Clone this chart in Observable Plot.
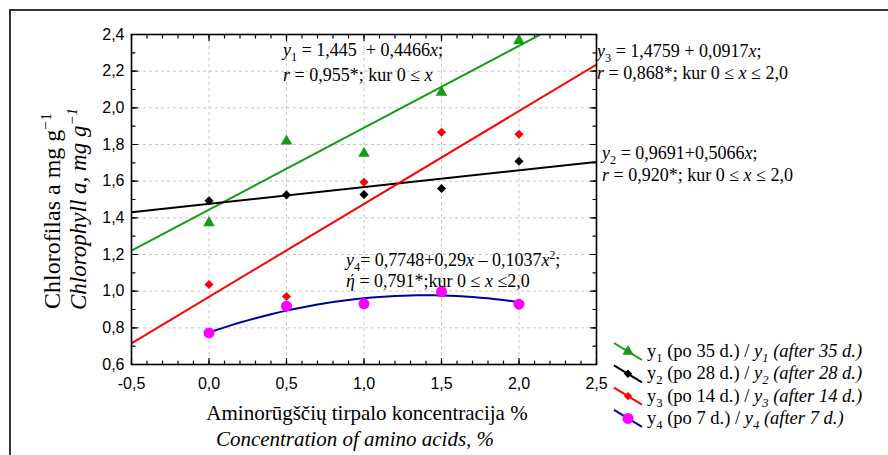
<!DOCTYPE html>
<html><head><meta charset="utf-8">
<script src="https://cdn.jsdelivr.net/npm/d3@7"></script>
<script src="https://cdn.jsdelivr.net/npm/@observablehq/plot@0.6"></script>
<style>body{margin:0;background:#fff} svg{display:block}</style>
</head><body><div id="chart"></div>
<script>
// ---- data ----
const concentrations = [0, 0.5, 1.0, 1.5, 2.0];
const y1Values = [1.373, 1.818, 1.751, 2.084, 2.367]; // green triangles (after 35 d.)
const y2Values = [1.493, 1.525, 1.527, 1.560, 1.709]; // black diamonds (after 28 d.)
const y3Values = [1.036, 0.971, 1.594, 1.867, 1.856]; // red diamonds (after 14 d.)
const y4Values = [0.772, 0.918, 0.931, 0.998, 0.929]; // magenta circles (after 7 d.)

// fitted equations as printed on the chart
const greenFit = [1.445, 0.4466];
const blackFit = [1.4759, 0.0917];
const redFit = [0.9691, 0.5066];
const blueFit = [0.7748, 0.29, -0.1037];
const blueRange = [0, 2.0];

const xDomain = [-0.5, 2.5];
const yDomain = [0.6, 2.4];
const xTicks = [-0.5, 0, 0.5, 1.0, 1.5, 2.0, 2.5];
const yTicks = [0.6, 0.8, 1.0, 1.2, 1.4, 1.6, 1.8, 2.0, 2.2, 2.4];
const xMinorStep = 0.1;
const yMinorStep = 0.1;

const seriesNames = ["(po 35 d.)", "(po 28 d.)", "(po 14 d.)", "(po 7 d.)"];
const seriesEn = ["(after 35 d.)", "(after 28 d.)", "(after 14 d.)", "(after 7 d.)"];
const subs = ["1", "2", "3", "4"];

// ---- styling ----
const GREEN = "#149c14", BLACK = "#000000", RED = "#ff0000", BLUE = "#00009c", MAGENTA = "#ff00ff";
const serif = "'Liberation Serif', 'Times New Roman', serif";
const sans = "'Liberation Sans', Arial, sans-serif";
const fmt = d => d.toFixed(1).replace(".", ",");

const minorX = d3.range(Math.round((xDomain[1]-xDomain[0])/xMinorStep)+1).map(i => +(xDomain[0] + i*xMinorStep).toFixed(2));
const minorY = d3.range(Math.round((yDomain[1]-yDomain[0])/yMinorStep)+1).map(i => +(yDomain[0] + i*yMinorStep).toFixed(2));

const linePts = (c) => xDomain.map(x => ({x, y: c[0] + c[1]*x}));
const bluePts = d3.range(0, 41).map(i => {
  const x = blueRange[0] + (blueRange[1]-blueRange[0]) * i / 40;
  return {x, y: blueFit[0] + blueFit[1]*x + blueFit[2]*x*x};
});

const tickShape = {draw(context, l) { context.moveTo(0, 0); context.lineTo(0, -l); }};
const tickMarks = (data, frameAnchor, rotate, length) =>
  Plot.vector(data, {
    ...(frameAnchor === "bottom" || frameAnchor === "top" ? {x: d => d} : {y: d => d}),
    frameAnchor, rotate, length, anchor: "start", shape: tickShape, stroke: "black", strokeWidth: 1.2
  });

const plot = Plot.plot({
  width: 888, height: 455,
  marginLeft: 131, marginRight: 292, marginTop: 34, marginBottom: 91,
  style: {fontFamily: sans, fontSize: "16px", background: "white", overflow: "visible"},
  x: {domain: xDomain},
  y: {domain: yDomain},
  marks: [
    Plot.gridX(xTicks, {stroke: "#c8c8c8", strokeOpacity: 1, strokeDasharray: "3,3"}),
    Plot.gridY(yTicks, {stroke: "#c8c8c8", strokeOpacity: 1, strokeDasharray: "3,3"}),
    Plot.axisX({ticks: xTicks, tickSize: 0, tickPadding: 13, tickFormat: fmt, label: null, fontSize: 16, fill: "black"}),
    Plot.axisY({ticks: yTicks, tickSize: 0, tickPadding: 7, tickFormat: fmt, label: null, fontSize: 16, fill: "black"}),
    tickMarks(minorX, "bottom", 0, 3.5),
    tickMarks(minorX, "top", 180, 3.5),
    tickMarks(xTicks, "bottom", 0, 6),
    tickMarks(xTicks, "top", 180, 6),
    tickMarks(minorY, "left", 90, 3.5),
    tickMarks(minorY, "right", -90, 3.5),
    tickMarks(yTicks, "left", 90, 6),
    tickMarks(yTicks, "right", -90, 6),
    Plot.line(linePts(greenFit), {x: "x", y: "y", stroke: GREEN, strokeWidth: 2, clip: true}),
    Plot.line(linePts(blackFit), {x: "x", y: "y", stroke: BLACK, strokeWidth: 2, clip: true}),
    Plot.line(linePts(redFit), {x: "x", y: "y", stroke: RED, strokeWidth: 2, clip: true}),
    Plot.line(bluePts, {x: "x", y: "y", stroke: BLUE, strokeWidth: 2, curve: "linear"}),
    Plot.dot(concentrations, {x: d => d, y: (d, i) => y1Values[i], symbol: "triangle", fill: GREEN, r: 4.3}),
    Plot.dot(concentrations, {x: d => d, y: (d, i) => y2Values[i], symbol: "diamond2", fill: BLACK, r: 4.1}),
    Plot.dot(concentrations, {x: d => d, y: (d, i) => y3Values[i], symbol: "diamond2", fill: RED, r: 4.1}),
    Plot.dot(concentrations, {x: d => d, y: (d, i) => y4Values[i], symbol: "circle", fill: MAGENTA, r: 5.5}),
    Plot.frame({stroke: "black", strokeWidth: 1.6})
  ]
});
document.getElementById("chart").appendChild(plot);

// ---- rich text annotations ----
const svg = d3.select(plot);
svg.insert("path", ":first-child").attr("d", "M10,470V10H895").attr("fill", "none").attr("stroke", "#333").attr("stroke-width", 2);

function rich(x, y, parts, size, opts = {}) {
  const t = svg.append("text").attr("x", x).attr("y", y)
    .attr("font-family", serif).attr("font-size", size).attr("fill", "black")
    .attr("text-anchor", opts.anchor || "start")
    .style("white-space", "pre");
  if (opts.rotate) t.attr("transform", `rotate(${opts.rotate},${x},${y})`);
  if (opts.italic) t.attr("font-style", "italic");
  let shift = 0;
  for (const [txt, st = ""] of parts) {
    const s = t.append("tspan").text(txt);
    let target = 0;
    if (st.includes("sub")) { target = size * 0.28; s.attr("font-size", size * 0.68); }
    if (st.includes("sup")) { target = -size * 0.38; s.attr("font-size", size * 0.65); }
    if (target !== shift) { s.attr("dy", target - shift); shift = target; }
    if (st.includes("i")) s.attr("font-style", "italic");
  }
  return t;
}

const A = 18;
rich(283, 56, [["y", "i"], ["1", "sub"], [" = 1,445  + 0,4466"], ["x", "i"], [";"]], A);
rich(283, 81, [["r", "i"], [" = 0,955*; kur 0 ≤ "], ["x", "i"]], A);
rich(597, 57, [["y", "i"], ["3", "sub"], [" = 1,4759 + 0,0917"], ["x", "i"], [";"]], A);
rich(597, 79, [["r", "i"], [" = 0,868*; kur 0 ≤ "], ["x", "i"], [" ≤ 2,0"]], A);
rich(602, 159, [["y", "i"], ["2", "sub"], [" = 0,9691+0,5066"], ["x", "i"], [";"]], A);
rich(602, 181, [["r", "i"], [" = 0,920*; kur 0 ≤ "], ["x", "i"], [" ≤ 2,0"]], A);
rich(346, 266, [["y", "i"], ["4", "sub"], ["= 0,7748+0,29"], ["x", "i"], [" – 0,1037"], ["x", "i"], ["2", "sup"], [";"]], A);
rich(346, 287, [["ή", "i"], [" = 0,791*;kur 0 ≤ "], ["x", "i"], [" ≤2,0"]], A);

// axis titles
rich(60, 211, [["Chlorofilas a mg g"], ["−1", "sup"]], 24, {anchor: "middle", rotate: -90});
rich(86, 209, [["Chlorophyll a, mg g"], ["−1", "sup"]], 23, {anchor: "middle", rotate: -90, italic: true});
rich(367, 420, [["Aminorūgščių tirpalo koncentracija %"]], 21, {anchor: "middle"});
rich(355, 446, [["Concentration of amino acids, %"]], 21, {anchor: "middle", italic: true});

// legend
const legendColors = [GREEN, BLACK, RED, BLUE];
const legendMarkers = [
  {sym: d3.symbolTriangle, size: 55, fill: GREEN},
  {sym: d3.symbolDiamond2, size: 45, fill: BLACK},
  {sym: d3.symbolDiamond2, size: 45, fill: RED},
  {sym: d3.symbolCircle, size: 95, fill: MAGENTA}
];
seriesNames.forEach((name, i) => {
  const by = 357 + i * 22.3;
  svg.append("line").attr("x1", 614).attr("y1", by - 14).attr("x2", 642).attr("y2", by + 3)
    .attr("stroke", legendColors[i]).attr("stroke-width", 2);
  svg.append("path").attr("d", d3.symbol(legendMarkers[i].sym, legendMarkers[i].size)())
    .attr("transform", `translate(628,${by - 5.5})`).attr("fill", legendMarkers[i].fill);
  rich(647, by, [["y"], [subs[i], "sub"], [" " + name + " / "], ["y", "i"], [subs[i], "sub i"], [" " + seriesEn[i], "i"]], 18.5);
});
</script>
</body></html>
